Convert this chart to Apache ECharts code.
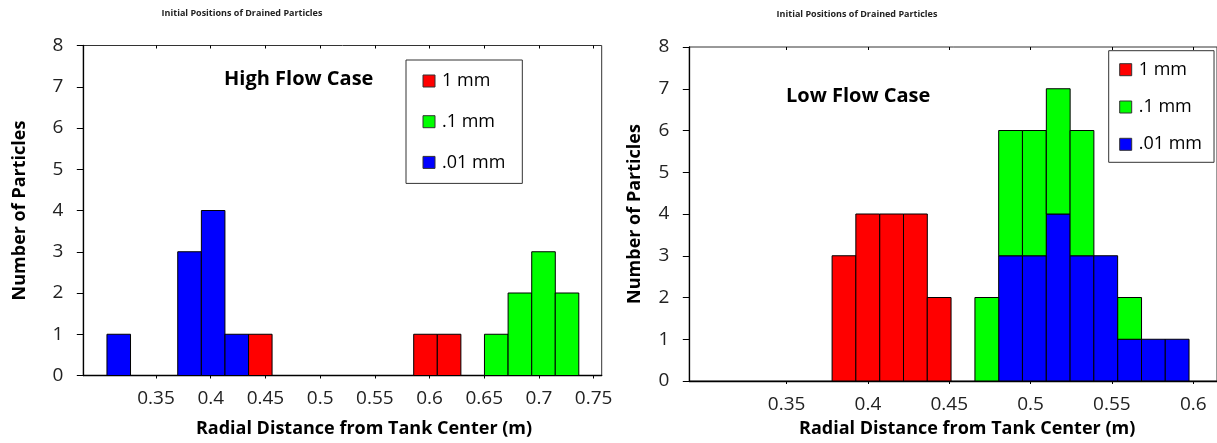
<!DOCTYPE html>
<html>
<head>
<meta charset="utf-8">
<script src="https://cdn.jsdelivr.net/npm/echarts@6/dist/echarts.min.js"></script>
<style>
  html, body { margin: 0; padding: 0; background: #fff; }
  #chart { width: 1217px; height: 443px; }
</style>
</head>
<body>
<div id="chart"></div>
<script>
// ---- High flow case: bin centres (m) and particle counts per size class ----
const highRedX   = [0.4453, 0.5963, 0.6179];
const highRedN   = [1, 1, 1];
const highGreenX = [0.6610, 0.6826, 0.7042, 0.7257];
const highGreenN = [1, 2, 3, 2];
const highBlueX  = [0.3159, 0.3806, 0.4022, 0.4238];
const highBlueN  = [1, 3, 4, 1];
const highBinWidth = 0.02154;
const highRange = [0.2835, 0.7574];
const highTicks = [0.35, 0.4, 0.45, 0.5, 0.55, 0.6, 0.65, 0.7, 0.75];

// ---- Low flow case: .1 mm counts sit on top of the .01 mm counts ----
const lowRedX   = [0.3853, 0.3999, 0.4146, 0.4292, 0.4438];
const lowRedN   = [3, 4, 4, 4, 2];
const lowBlueX  = [0.4877, 0.5023, 0.5170, 0.5316, 0.5462, 0.5609, 0.5755, 0.5901];
const lowBlueN  = [3, 3, 4, 3, 3, 1, 1, 1];
const lowGreenX = [0.4731, 0.4877, 0.5023, 0.5170, 0.5316, 0.5609];
const lowGreenN = [2, 3, 3, 3, 3, 1];
const lowBinWidth = 0.01463;
const lowRange = [0.2902, 0.6146];
const lowTicks = [0.35, 0.4, 0.45, 0.5, 0.55, 0.6];

const yTicks = [0, 8, 1];
const sizeNames = ['1 mm', '.1 mm', '.01 mm'];
const sizeColors = ['#ff0000', '#00ff00', '#0000ff'];

const FONT = '"Open Sans", "DejaVu Sans", sans-serif';

function rows(xs, ns, baseOf) {
  return xs.map((x, i) => [x, ns[i], baseOf ? baseOf(x) : 0]);
}
function stackBase(xs, ns) {
  return x => { const i = xs.indexOf(x); return i >= 0 ? ns[i] : 0; };
}

function histSeries(name, color, data, binWidth, axisIdx) {
  return {
    type: 'custom',
    name: name,
    xAxisIndex: axisIdx,
    yAxisIndex: axisIdx / 2,
    itemStyle: { color: color, borderColor: '#000', borderWidth: 1 },
    encode: { x: 0, y: 1 },
    data: data,
    renderItem: function (params, api) {
      const x = api.value(0), n = api.value(1), base = api.value(2);
      const p0 = api.coord([x - binWidth / 2, base + n]);
      const p1 = api.coord([x + binWidth / 2, base]);
      return {
        type: 'rect',
        shape: { x: p0[0], y: p0[1], width: p1[0] - p0[0], height: p1[1] - p0[1] },
        style: { fill: color, stroke: '#000', lineWidth: 1 }
      };
    }
  };
}

function xAxes(gridIndex, range, ticks, nameShift, nameGap) {
  return [
    {
      type: 'value', gridIndex: gridIndex, min: range[0], max: range[1],
      name: 'Radial Distance from Tank Center (m)',
      nameLocation: 'middle', nameGap: nameGap,
      nameTextStyle: { fontFamily: FONT, fontWeight: 'bold', fontSize: 18, color: '#000',
                       padding: [0, 0, 0, nameShift] },
      axisLine: { show: true, lineStyle: { color: '#000', width: 1.3 } },
      axisTick: { show: true, length: 3, customValues: ticks, lineStyle: { color: '#000' } },
      axisLabel: { customValues: ticks, margin: 14, fontFamily: FONT, fontSize: 19, color: '#222',
                   formatter: v => String(+v.toFixed(2)) },
      splitLine: { show: false }
    },
    {
      type: 'value', gridIndex: gridIndex, min: range[0], max: range[1],
      axisLine: { show: false },
      axisTick: { show: true, inside: true, length: 3, customValues: ticks, lineStyle: { color: '#000' } },
      axisLabel: { show: false, customValues: ticks },
      splitLine: { show: false }
    }
  ];
}

function yAxis(gridIndex, nameGap) {
  return {
    type: 'value', gridIndex: gridIndex, min: yTicks[0], max: yTicks[1], interval: yTicks[2],
    name: 'Number of Particles', nameLocation: 'middle', nameGap: nameGap,
    nameTextStyle: { fontFamily: FONT, fontWeight: 'bold', fontSize: 18, color: '#000' },
    axisLine: { show: true, lineStyle: { color: '#000', width: 1.3 } },
    axisTick: { show: true, length: 6.5, lineStyle: { color: '#000' } },
    axisLabel: { margin: 20, fontFamily: FONT, fontSize: 19, color: '#222' },
    splitLine: { show: false }
  };
}

function legend(left, top, gap, padding) {
  return {
    orient: 'vertical', left: left, top: top, padding: padding, itemGap: gap,
    itemWidth: 12, itemHeight: 12, icon: 'rect',
    borderColor: '#333', borderWidth: 1, backgroundColor: '#fff',
    itemStyle: { borderColor: '#333', borderWidth: 1 },
    textStyle: { fontFamily: FONT, fontSize: 18, color: '#000', padding: [0, 0, 0, 2] },
    data: sizeNames
  };
}

const chart = echarts.init(document.getElementById('chart'), null, { renderer: 'canvas' });

const option = {
  animation: false,
  backgroundColor: '#fff',
  grid: [
    { left: 83.3, top: 45.5, width: 518.4, height: 330, show: true, borderColor: '#333', borderWidth: 1 },
    { left: 689.3, top: 47, width: 532, height: 334, show: true, borderColor: '#333', borderWidth: 1 }
  ],
  xAxis: [].concat(xAxes(0, highRange, highTicks, 43, 44), xAxes(1, lowRange, lowTicks, 28, 39)),
  yAxis: [yAxis(0, 54), yAxis(1, 45)],
  legend: [
    legend(406, 60, 22.7, [12, 17, 12, 16.5]),
    legend(1108.7, 50.7, 19.3, [10, 12, 9, 10.5])
  ],
  graphic: [
    { type: 'text', x: 242, y: 13, style: { text: 'Initial Positions of Drained Particles',
      fontFamily: FONT, fontWeight: 'bold', fontSize: 9, fill: '#222', align: 'center', verticalAlign: 'middle' } },
    { type: 'text', x: 857, y: 14, style: { text: 'Initial Positions of Drained Particles',
      fontFamily: FONT, fontWeight: 'bold', fontSize: 9, fill: '#222', align: 'center', verticalAlign: 'middle' } },
    { type: 'text', x: 224, y: 79.5, style: { text: 'High Flow Case',
      fontFamily: FONT, fontWeight: 'bold', fontSize: 20, fill: '#000', align: 'left', verticalAlign: 'middle' } },
    { type: 'text', x: 786, y: 96, style: { text: 'Low Flow Case',
      fontFamily: FONT, fontWeight: 'bold', fontSize: 20, fill: '#000', align: 'left', verticalAlign: 'middle' } }
  ],
  series: [
    histSeries(sizeNames[0], sizeColors[0], rows(highRedX, highRedN), highBinWidth, 0),
    histSeries(sizeNames[1], sizeColors[1], rows(highGreenX, highGreenN), highBinWidth, 0),
    histSeries(sizeNames[2], sizeColors[2], rows(highBlueX, highBlueN), highBinWidth, 0),
    histSeries(sizeNames[0], sizeColors[0], rows(lowRedX, lowRedN), lowBinWidth, 2),
    histSeries(sizeNames[2], sizeColors[2], rows(lowBlueX, lowBlueN), lowBinWidth, 2),
    histSeries(sizeNames[1], sizeColors[1], rows(lowGreenX, lowGreenN, stackBase(lowBlueX, lowBlueN)), lowBinWidth, 2)
  ]
};

chart.setOption(option);
</script>
</body>
</html>
